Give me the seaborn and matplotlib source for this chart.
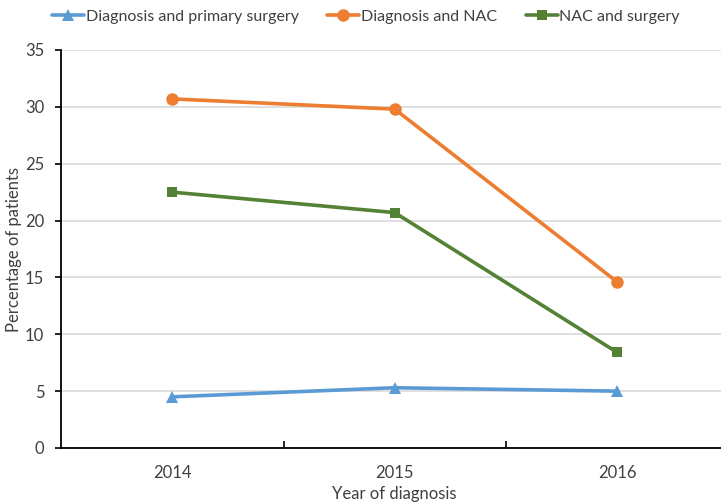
import pandas as pd
import seaborn as sns
import matplotlib.pyplot as plt
from matplotlib.ticker import FixedLocator

years = [2014, 2015, 2016]
primary_surgery = [4.5, 5.3, 5.0]
diag_nac = [30.7, 29.8, 14.6]
nac_surgery = [22.5, 20.7, 8.4]

series = ['Diagnosis and primary surgery', 'Diagnosis and NAC', 'NAC and surgery']
colors = ['#5B9BD5', '#ED7D31', '#548235']
markers = ['^', 'o', 's']
msizes = [9, 9, 6.5]

df = pd.DataFrame({
    'year': years * 3,
    'pct': primary_surgery + diag_nac + nac_surgery,
    'series': [s for s in series for _ in years],
})

sns.set_style('white')
plt.rcParams['font.family'] = ['Lato', 'DejaVu Sans']

fig = plt.figure(figsize=(7.21, 5.04), dpi=100)
ax = fig.add_axes([61 / 721, 1 - 448 / 504, 667.5 / 721, 398 / 504])

sns.lineplot(data=df, x='year', y='pct', hue='series', style='series',
             hue_order=series, style_order=series, palette=colors,
             markers=markers, dashes=False, linewidth=2.6,
             markeredgewidth=0, ax=ax)

for line, ms in zip(ax.lines[:3], msizes):
    line.set_markersize(ms)

ax.set_xlim(2013.5, 2016.5)
ax.set_ylim(0, 35)
ax.set_yticks(range(0, 36, 5))
ax.set_xticks(years)
ax.set_xticklabels([str(y) for y in years])
ax.xaxis.set_minor_locator(FixedLocator([2014.5, 2015.5]))
ax.tick_params(axis='x', which='major', length=0, pad=12, labelsize=12, colors='#404040')
ax.tick_params(axis='x', which='minor', direction='in', length=5, width=1.2, color='black', bottom=True)
ax.tick_params(axis='y', direction='out', length=4, width=1.2, color='black', left=True, labelsize=12, labelcolor='#404040', pad=8)
ax.yaxis.grid(True, color='#d9d9d9', linewidth=1.2)
ax.set_axisbelow(True)

for side in ['top', 'right']:
    ax.spines[side].set_visible(False)
for side in ['left', 'bottom']:
    ax.spines[side].set_color('black')
    ax.spines[side].set_linewidth(1.3)

ax.set_xlabel('Year of diagnosis', fontsize=12, color='#404040', va='center')
ax.set_ylabel('Percentage of patients', fontsize=12, color='#404040', va='center')
ax.xaxis.set_label_coords(0.5, (448 - 494) / 398, transform=ax.transAxes)
ax.yaxis.set_label_coords(-(61 - 14) / 667.5, 0.5, transform=ax.transAxes)

handles, labels = ax.get_legend_handles_labels()
for h, ms in zip(handles, msizes):
    h.set_markersize(ms)
ax.legend(handles, labels, loc='center', bbox_to_anchor=(366 / 721, 1 - 17 / 504),
          bbox_transform=fig.transFigure, ncol=3, frameon=False, fontsize=11.5,
          handlelength=2.0, handletextpad=0.1, columnspacing=1.8, labelcolor='#404040')

fig.savefig('out.png', dpi=100)
